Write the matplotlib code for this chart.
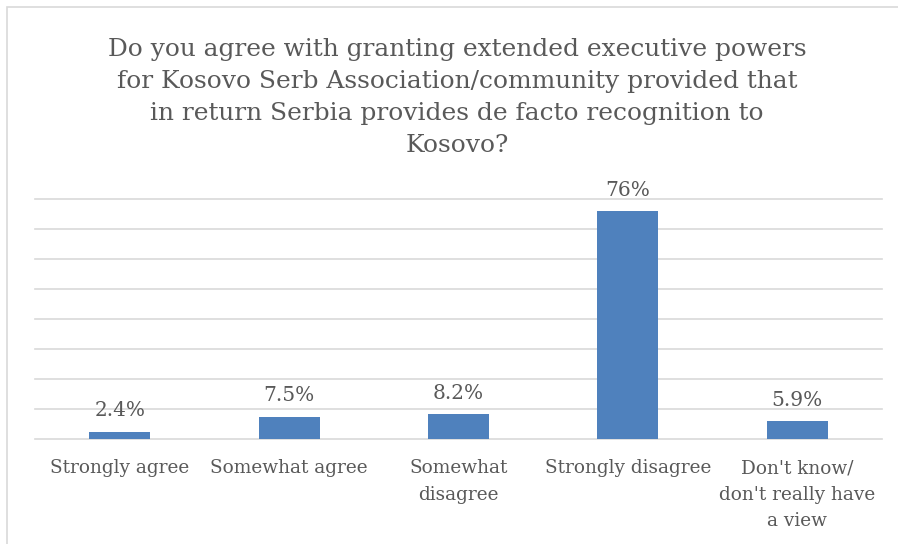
import matplotlib
matplotlib.use("Agg")
import matplotlib.pyplot as plt
from matplotlib.patches import Rectangle

categories = ["Strongly agree", "Somewhat agree", "Somewhat\ndisagree",
              "Strongly disagree", "Don't know/\ndon't really have\na view"]
values = [2.4, 7.5, 8.2, 76, 5.9]
value_labels = ["2.4%", "7.5%", "8.2%", "76%", "5.9%"]
title = ("Do you agree with granting extended executive powers\n"
         "for Kosovo Serb Association/community provided that\n"
         "in return Serbia provides de facto recognition to\nKosovo?")

W, H = 898, 544
fig = plt.figure(figsize=(W / 100, H / 100), dpi=100)
fig.patch.set_facecolor("white")
fig.patches.append(Rectangle((7 / W, -0.1), 1.2, 1 - 7 / H + 0.1, transform=fig.transFigure,
                             fill=False, edgecolor="#d9d9d9", linewidth=1.2))

font = "DejaVu Serif"
tc = "#595959"
ax = fig.add_axes([35 / W, 1 - 439 / H, (882 - 35) / W, (439 - 199) / H])
x = list(range(len(categories)))
ax.bar(x, values, width=0.36, color="#4f81bd", zorder=3)
ax.set_xlim(-0.5, len(categories) - 0.5)
ax.set_ylim(0, 80)
ax.set_yticks(range(0, 81, 10))
for yv in range(0, 81, 10):
    ax.axhline(yv, color="#d9d9d9", linewidth=1.2, zorder=1, clip_on=False)
ax.tick_params(axis="y", left=False, labelleft=False)
ax.tick_params(axis="x", length=0, pad=14.5)
ax.set_xticks(x)
ax.set_xticklabels(categories, fontsize=13.3, color=tc, family=font, linespacing=1.62, va="top")
for s in ax.spines.values():
    s.set_visible(False)
for xi, v, lab in zip(x, values, value_labels):
    ax.annotate(lab, (xi, v), xytext=(0, 8.2), textcoords="offset points", ha="center", va="bottom",
                fontsize=14.5, color=tc, family=font)
fig.text(457 / W, 1 - 38 / H, title, ha="center", va="top", fontsize=17.9, color=tc,
         family=font, linespacing=1.5)
fig.savefig("out.png", dpi=100)
